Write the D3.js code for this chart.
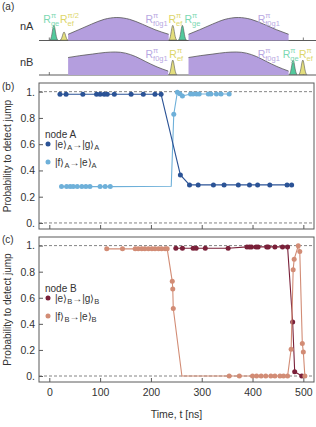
<!DOCTYPE html>
<html>
<head>
<meta charset="utf-8">
<script src="https://cdn.jsdelivr.net/npm/d3@7"></script>
<style>
  body { margin: 0; background: #fff; }
  text { font-family: "Liberation Sans", Arial, sans-serif; }
</style>
</head>
<body>
<div id="chart"></div>
<script>
// --- Axis ticks ---
const xTicks = [0, 100, 200, 300, 400, 500];
const yTicks = [0, 0.2, 0.4, 0.6, 0.8, 1];
const yTickLabels = ["0.", "0.2", "0.4", "0.6", "0.8", "1."];

// --- Panel (b): node A ---
const eA_t = [21, 33, 66, 93, 100, 108, 114, 128, 161, 185, 208, 220, 258, 276, 293, 323, 344, 372, 394, 410, 434, 468, 477];
const eA_p = [0.98, 0.98, 0.98, 0.98, 0.98, 0.98, 0.98, 0.98, 0.98, 0.98, 0.98, 0.98, 0.366, 0.29, 0.29, 0.29, 0.29, 0.29, 0.29, 0.29, 0.29, 0.29, 0.29];
const fA_t = [24, 34, 41, 47, 55, 64, 72, 80, 100, 110, 120, 240, 245, 252, 257, 262, 278, 283, 290, 295, 313, 318, 329, 338, 354];
const fA_p = [0.277, 0.277, 0.277, 0.277, 0.277, 0.277, 0.277, 0.277, 0.277, 0.277, 0.277, 0.28, 0.828, 0.995, 0.985, 0.967, 0.982, 0.982, 0.982, 0.982, 0.982, 0.982, 0.982, 0.982, 0.982];
const fA_noMarker = [240];

// --- Panel (c): node B ---
const eB_t = [249, 262, 283, 289, 307, 352, 389, 394, 398, 407, 411, 428, 431, 444, 459, 469, 479, 483, 497];
const eB_p = [0.98, 0.98, 0.98, 0.98, 0.98, 0.98, 0.99, 0.99, 0.99, 0.99, 0.99, 0.99, 0.99, 0.99, 0.99, 0.99, 0.414, 0.033, 0];
const fB_t = [113, 144, 169, 175, 182, 188, 195, 202, 208, 215, 221, 228, 232, 242, 243, 244, 261, 354, 374, 400, 408, 417, 426, 436, 444, 454, 461, 469, 476, 480, 482, 490, 493, 498, 500, 503];
const fB_p = [0.975, 0.975, 0.975, 0.975, 0.975, 0.975, 0.975, 0.975, 0.975, 0.975, 0.975, 0.975, 0.975, 0.726, 0.667, 0.518, 0, 0, 0, 0, 0, 0, 0, 0, 0, 0, 0, 0, 0.206, 0.815, 0.896, 0.998, 0.954, 0.25, 0.185, 0];
const fB_noMarker = [261];

// --- Panel (a): pulse envelopes (time ns, relative height) ---
const nA_long1_t = [37, 58, 83, 108, 133, 158, 183, 208, 235];
const nA_long2_t = [274, 296, 321, 346, 372, 397, 422, 447, 471];
const nA_long_h = [0.27, 0.47, 0.71, 0.92, 1, 0.92, 0.71, 0.47, 0.27];
const nB_long1_t = [37, 60, 85, 110, 130, 150, 170, 190, 210, 234];
const nB_long2_t = [274, 297, 322, 347, 368, 388, 408, 428, 448, 471];
const nB_long_h = [0.76, 0.84, 0.91, 0.98, 1, 0.95, 0.8, 0.58, 0.37, 0.17];
// short pulses: time, relative height, kind
const nA_short_t = [9, 29, 243, 262];
const nA_short_h = [0.67, 0.37, 0.66, 0.66];
const nA_short_k = ["ge", "ef", "ef", "ge"];
const nB_short_t = [243, 480, 499];
const nB_short_h = [0.65, 0.65, 0.65];
const nB_short_k = ["ef", "ge", "ef"];

const zip = (ts, ps) => ts.map((t, i) => ({ t: t, p: ps[i] }));

const W = 316, H = 427;
const svg = d3.select("#chart").append("svg")
    .attr("width", W).attr("height", H)
    .style("background", "#fff");

const x = d3.scaleLinear().domain([-20.3, 521]).range([39, 314]);

const frameColor = "#5a5a5a";
const textColor = "#333";

// ---------- Panel (a) ----------
const pulseColor = { ge: "#52c99c", ef: "#e3de7c", f0g1: "#b49ede" };
const labelColor = { ge: "#7cd8b2", ef: "#ddd66a", f0g1: "#b8a8e2" };
const rowBase = [40.5, 75];
const rowScale = 23;

const pa = svg.append("g");

rowBase.forEach(b => {
    pa.append("line").attr("x1", 39).attr("x2", 316).attr("y1", b).attr("y2", b)
        .attr("stroke", frameColor).attr("stroke-width", 1);
    pa.selectAll(null).data(xTicks).join("line")
        .attr("x1", d => x(d)).attr("x2", d => x(d))
        .attr("y1", b).attr("y2", b - 3)
        .attr("stroke", frameColor).attr("stroke-width", 0.8);
});

const drawLong = (ts, hs, base) => {
    const pts = zip(ts, hs);
    const area = d3.area().x(d => x(d.t)).y0(base).y1(d => base - d.p * rowScale).curve(d3.curveMonotoneX);
    const top = d3.line().x(d => x(d.t)).y(d => base - d.p * rowScale).curve(d3.curveMonotoneX);
    pa.append("path").attr("d", area(pts)).attr("fill", pulseColor.f0g1);
    pa.append("path").attr("d", top(pts)).attr("fill", "none").attr("stroke", "#555").attr("stroke-width", 0.8);
};
drawLong(nA_long1_t, nA_long_h, rowBase[0]);
drawLong(nA_long2_t, nA_long_h, rowBase[0]);
drawLong(nB_long1_t, nB_long_h, rowBase[1]);
drawLong(nB_long2_t, nB_long_h, rowBase[1]);

// narrow peak glyph
const peakOffsets = d3.range(-4, 4.01, 0.5);
const drawShort = (ts, hs, ks, base) => {
    ts.forEach((t, i) => {
        const cx = x(t);
        const pts = peakOffsets.map(dx => [cx + dx, base - hs[i] * rowScale * Math.exp(-(dx * dx) / (2 * 1.5 * 1.5))]);
        pa.append("path").attr("d", d3.line()(pts) + "Z")
            .attr("fill", pulseColor[ks[i]]).attr("stroke", "#555").attr("stroke-width", 0.6);
    });
};
drawShort(nA_short_t, nA_short_h, nA_short_k, rowBase[0]);
drawShort(nB_short_t, nB_short_h, nB_short_k, rowBase[1]);

// R labels
const rLabel = (px, py, sub, sup, color) => {
    const r = pa.append("text").attr("x", px).attr("y", py).attr("fill", color)
        .style("font-size", "10.5px").text("R");
    const w = r.node().getComputedTextLength();
    pa.append("text").attr("x", px + w).attr("y", py - 5.5).attr("fill", color)
        .style("font-size", "7.5px").text(sup);
    pa.append("text").attr("x", px + w).attr("y", py + 3).attr("fill", color)
        .style("font-size", "7.5px").text(sub);
};
const labelsA = [
    [43.3, "ge", "π"], [60, "ef", "π/2"], [145.5, "f0g1", "π"], [168.5, "ef", "π"], [184.5, "ge", "π"], [257.7, "f0g1", "π"]
];
const labelsB = [
    [145.5, "f0g1", "π"], [169.3, "ef", "π"], [257.7, "f0g1", "π"], [282.7, "ge", "π"], [299, "ef", "π"]
];
labelsA.forEach(l => rLabel(l[0], 23, l[1], l[2], labelColor[l[1]]));
labelsB.forEach(l => rLabel(l[0], 58, l[1], l[2], labelColor[l[1]]));

pa.append("text").attr("x", 20).attr("y", 30).attr("fill", textColor).style("font-size", "11px").text("nA");
pa.append("text").attr("x", 20).attr("y", 66).attr("fill", textColor).style("font-size", "11px").text("nB");

// ---------- Panels (b), (c) ----------
const drawPanel = (cfg) => {
    const g = svg.append("g");
    const y = d3.scaleLinear().domain([-0.046, 1.066]).range([cfg.bottom, cfg.top]);

    // dashed reference lines
    g.selectAll(null).data([0, 1]).join("line")
        .attr("x1", 39).attr("x2", 314)
        .attr("y1", d => y(d)).attr("y2", d => y(d))
        .attr("stroke", "#777").attr("stroke-width", 0.9).attr("stroke-dasharray", "3,2");

    // axes
    const ya = g.append("g").attr("transform", "translate(39,0)")
        .call(d3.axisLeft(y).tickValues(yTicks).tickSize(-4).tickPadding(4)
            .tickFormat((d, i) => yTickLabels[i]));
    const xa = g.append("g").attr("transform", `translate(0,${cfg.bottom})`)
        .call(d3.axisBottom(x).tickValues(xTicks).tickSize(-4).tickPadding(7)
            .tickFormat(cfg.xLabels ? d3.format("d") : ""));
    [ya, xa].forEach(a => {
        a.select(".domain").remove();
        a.selectAll("line").attr("stroke", frameColor);
        a.selectAll("text").attr("fill", textColor)
            .style("font-family", "'Liberation Sans', Arial, sans-serif").style("font-size", "10.5px");
    });

    // frame
    g.append("rect").attr("x", 39).attr("y", cfg.top)
        .attr("width", 314 - 39).attr("height", cfg.bottom - cfg.top)
        .attr("fill", "none").attr("stroke", frameColor).attr("stroke-width", 1);

    // series
    const line = d3.line().x(d => x(d.t)).y(d => y(d.p));
    cfg.series.forEach(s => {
        const pts = zip(s.t, s.p);
        g.append("path").attr("d", line(pts)).attr("fill", "none")
            .attr("stroke", s.color).attr("stroke-width", 1.1);
        g.selectAll(null).data(pts.filter(d => !s.noMarker.includes(d.t))).join("circle")
            .attr("cx", d => x(d.t)).attr("cy", d => y(d.p)).attr("r", 2.5)
            .attr("fill", s.color);
    });

    // legend
    const lg = g.append("g");
    lg.append("text").attr("x", 45).attr("y", cfg.top + 55).attr("fill", textColor)
        .style("font-size", "10px").text(cfg.node);
    cfg.legend.forEach((s, i) => {
        const ly = cfg.top + 61 + i * 18;
        lg.append("circle").attr("cx", 48).attr("cy", ly).attr("r", 2.5).attr("fill", s.color);
        const t = lg.append("text").attr("x", 55).attr("y", ly + 3.5).attr("fill", textColor)
            .style("font-size", "10px");
        t.append("tspan").text(s.from);
        t.append("tspan").attr("dy", 2.5).style("font-size", "7.5px").text(cfg.sub);
        t.append("tspan").attr("dy", -2.5).text("→" + s.to);
        t.append("tspan").attr("dy", 2.5).style("font-size", "7.5px").text(cfg.sub);
    });

    // y title
    g.append("text")
        .attr("transform", `translate(11,${(cfg.top + cfg.bottom) / 2}) rotate(-90)`)
        .attr("text-anchor", "middle").attr("fill", textColor)
        .style("font-size", "10px").text("Probability to detect jump");

    // panel label
    svg.append("text").attr("x", 2).attr("y", cfg.labelY).attr("fill", textColor)
        .style("font-size", "10px").text(cfg.label);
};

const darkBlue = "#2b5396", lightBlue = "#6eb0d9";
const darkRed = "#7a2039", salmon = "#d28c75";

drawPanel({
    top: 83, bottom: 229, label: "(b)", labelY: 90, node: "node A", sub: "A", xLabels: false,
    series: [
        { t: fA_t, p: fA_p, color: lightBlue, noMarker: fA_noMarker },
        { t: eA_t, p: eA_p, color: darkBlue, noMarker: [] }
    ],
    legend: [
        { color: darkBlue, from: "|e⟩", to: "|g⟩" },
        { color: lightBlue, from: "|f⟩", to: "|e⟩" }
    ]
});
drawPanel({
    top: 237, bottom: 382, label: "(c)", labelY: 243, node: "node B", sub: "B", xLabels: true,
    series: [
        { t: eB_t, p: eB_p, color: darkRed, noMarker: [] },
        { t: fB_t, p: fB_p, color: salmon, noMarker: fB_noMarker }
    ],
    legend: [
        { color: darkRed, from: "|e⟩", to: "|g⟩" },
        { color: salmon, from: "|f⟩", to: "|e⟩" }
    ]
});

svg.append("text").attr("x", 176.5).attr("y", 418).attr("text-anchor", "middle")
    .attr("fill", textColor).style("font-size", "10.5px").text("Time, t [ns]");

svg.append("text").attr("x", 2).attr("y", 10).attr("fill", textColor)
    .style("font-size", "10px").text("(a)");
</script>
</body>
</html>
